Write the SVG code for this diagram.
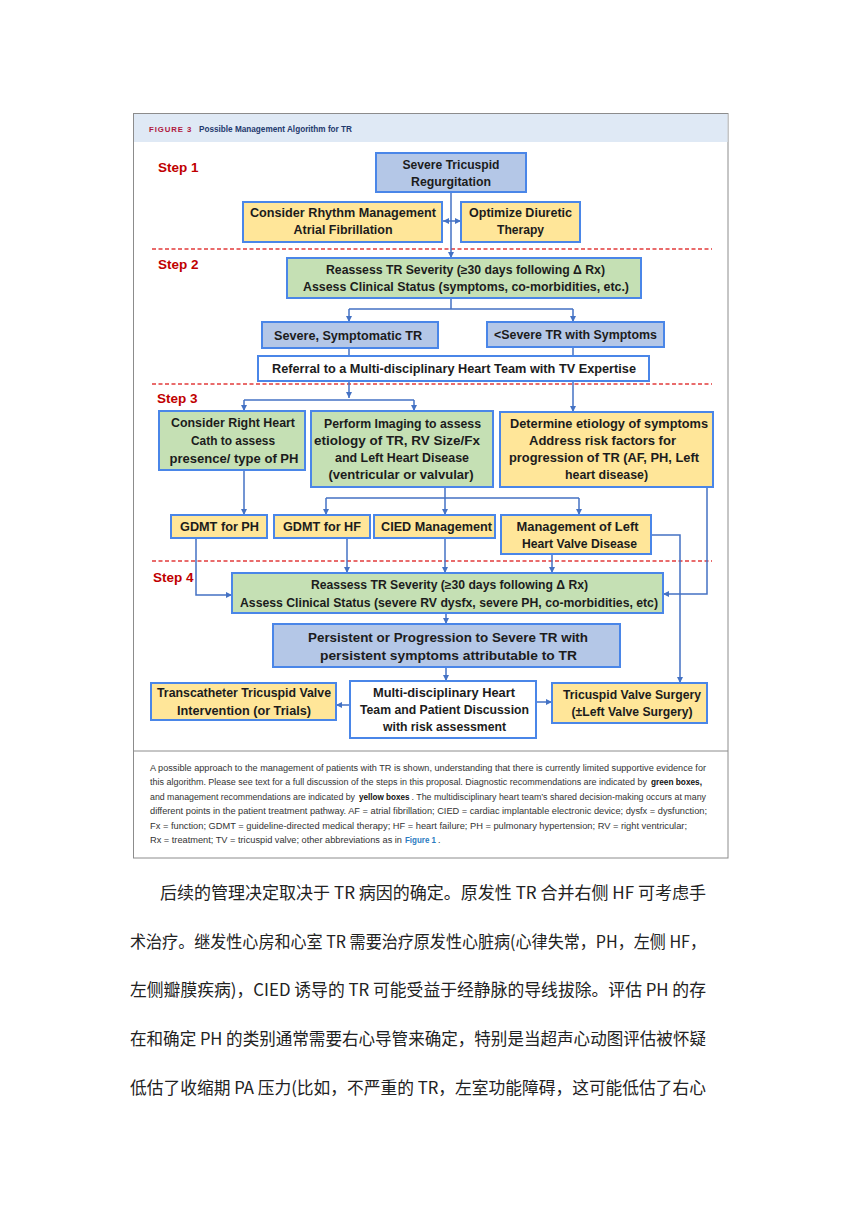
<svg xmlns="http://www.w3.org/2000/svg" width="860" height="1217" viewBox="0 0 860 1217">
<defs>
<style>
.bx{stroke:#4a86e8;stroke-width:2}
.blue{fill:#b4c7e7}.yel{fill:#ffe699}.grn{fill:#c5e0b4}.wht{fill:#ffffff}
.t{font-family:"Liberation Sans",Arial,sans-serif;font-weight:bold;font-size:12px;fill:#1c1c1c;text-anchor:middle}
.tb{font-size:13.5px}
.c{stroke:#4472c4;stroke-width:1.5;fill:none}
.a{marker-end:url(#ah)}
.dash{stroke:#e23b3b;stroke-width:1.3;stroke-dasharray:4 2.5}
.step{font-family:"Liberation Sans",Arial,sans-serif;font-weight:bold;font-size:13.5px;fill:#c00000}
.cap{font-family:"Liberation Sans",Arial,sans-serif;font-size:8.9px;fill:#333}
.capb{font-weight:bold;fill:#111;font-size:8.2px}
.capl{font-weight:bold;fill:#2b7bbf;font-size:8.2px}
.zh{font-family:"Noto Sans CJK SC","Noto Sans",sans-serif;font-size:17px;fill:#222}
</style>
<marker id="ah" viewBox="0 0 10 10" refX="10" refY="5" markerWidth="6" markerHeight="6" markerUnits="userSpaceOnUse" orient="auto">
<path d="M0,0 L10,5 L0,10 z" fill="#4472c4"/>
</marker>
<marker id="ahs" viewBox="0 0 10 10" refX="0" refY="5" markerWidth="6" markerHeight="6" markerUnits="userSpaceOnUse" orient="auto">
<path d="M10,0 L0,5 L10,10 z" fill="#4472c4"/>
</marker>
</defs>
<rect x="0" y="0" width="860" height="1217" fill="#ffffff"/>
<g id="frame">
<rect x="133.5" y="113.5" width="594.5" height="744.5" fill="#ffffff" stroke="#8c8c8c" stroke-width="1"/>
<rect x="134" y="114" width="593.5" height="28" fill="#dfe9f5"/>
<line x1="133.5" y1="751" x2="728" y2="751" stroke="#8c8c8c" stroke-width="1"/>
<text x="149" y="131.5" font-family="Liberation Sans,Arial,sans-serif" font-weight="bold" font-size="7.8" letter-spacing="0.9" fill="#b0173e">FIGURE 3</text>
<text x="199" y="131.5" font-family="Liberation Sans,Arial,sans-serif" font-weight="bold" font-size="8.4" fill="#1f3a6e" textLength="153" lengthAdjust="spacingAndGlyphs">Possible Management Algorithm for TR</text>
</g>
<g id="dividers">
<line class="dash" x1="152" y1="249" x2="712" y2="249"/>
<line class="dash" x1="152" y1="384" x2="712" y2="384"/>
<line class="dash" x1="152" y1="561" x2="712" y2="561"/>
<text class="step" x="158" y="172">Step 1</text>
<text class="step" x="158" y="269">Step 2</text>
<text class="step" x="157" y="403">Step 3</text>
<text class="step" x="153" y="582">Step 4</text>
</g>
<g id="connectors">
<path class="c a" d="M451,192 V258"/>
<path class="c" d="M443,221 H461" marker-start="url(#ahs)" marker-end="url(#ah)"/>
<path class="c" d="M451,298 V309 M349,309 H573"/>
<path class="c a" d="M349,309 V322"/>
<path class="c a" d="M573,309 V322"/>
<path class="c" d="M349,348 V356"/>
<path class="c a" d="M573,347 V412"/>
<path class="c a" d="M349,381 V398"/>
<path class="c" d="M244,400 H414"/>
<path class="c a" d="M244,400 V411"/>
<path class="c a" d="M414,400 V411"/>
<path class="c a" d="M244,470 V515"/>
<path class="c" d="M445,487 V498 M326,498 H579"/>
<path class="c a" d="M326,498 V515"/>
<path class="c a" d="M445,498 V515"/>
<path class="c a" d="M579,498 V515"/>
<path class="c a" d="M196,538 V595 H232"/>
<path class="c a" d="M347,538 V573"/>
<path class="c a" d="M445,538 V573"/>
<path class="c a" d="M552,554 V573"/>
<path class="c a" d="M651,535 H680 V683"/>
<path class="c a" d="M707,487 V594 H663"/>
<path class="c a" d="M446,613 V624"/>
<path class="c a" d="M446,667 V681"/>
<path class="c a" d="M350,705 H336"/>
<path class="c a" d="M536,702 H552"/>
</g>
<g id="severe-tr">
<rect class="bx blue" x="376" y="153" width="150" height="39"/>
<text class="t" x="451" y="169" textLength="97" lengthAdjust="spacingAndGlyphs">Severe Tricuspid</text>
<text class="t" x="451" y="186" textLength="80" lengthAdjust="spacingAndGlyphs">Regurgitation</text>
</g>
<g id="rhythm">
<rect class="bx yel" x="243" y="202" width="199" height="40"/>
<text class="t" x="343" y="217" textLength="186" lengthAdjust="spacingAndGlyphs">Consider Rhythm Management</text>
<text class="t" x="343" y="234" textLength="99" lengthAdjust="spacingAndGlyphs">Atrial Fibrillation</text>
</g>
<g id="diuretic">
<rect class="bx yel" x="461" y="202" width="119" height="40"/>
<text class="t" x="520.5" y="217" textLength="103" lengthAdjust="spacingAndGlyphs">Optimize Diuretic</text>
<text class="t" x="520.5" y="234" textLength="47" lengthAdjust="spacingAndGlyphs">Therapy</text>
</g>
<g id="reassess-1">
<rect class="bx grn" x="287" y="258" width="354" height="40"/>
<text class="t" x="465.5" y="274" textLength="279" lengthAdjust="spacingAndGlyphs">Reassess TR Severity (≥30 days following Δ Rx)</text>
<text class="t" x="466" y="291" textLength="326" lengthAdjust="spacingAndGlyphs">Assess Clinical Status (symptoms, co-morbidities, etc.)</text>
</g>
<g id="severe-symptomatic">
<rect class="bx blue" x="262" y="322" width="176" height="26"/>
<text class="t" x="348" y="339.5" textLength="148" lengthAdjust="spacingAndGlyphs">Severe, Symptomatic  TR</text>
</g>
<g id="less-severe">
<rect class="bx blue" x="487" y="322" width="177" height="25"/>
<text class="t" x="575.5" y="339" textLength="163" lengthAdjust="spacingAndGlyphs">&lt;Severe TR with Symptoms</text>
</g>
<g id="referral">
<rect class="bx wht" x="258" y="356" width="391" height="25"/>
<text class="t" x="454" y="372.5" textLength="364" lengthAdjust="spacingAndGlyphs">Referral to a Multi-disciplinary Heart Team with TV Expertise</text>
</g>
<g id="right-heart-cath">
<rect class="bx grn" x="159" y="411" width="146" height="59"/>
<text class="t" x="233" y="427" textLength="124" lengthAdjust="spacingAndGlyphs">Consider Right Heart</text>
<text class="t" x="233" y="445" textLength="84" lengthAdjust="spacingAndGlyphs">Cath to assess</text>
<text class="t" x="234" y="463" textLength="129" lengthAdjust="spacingAndGlyphs">presence/ type of PH</text>
</g>
<g id="imaging">
<rect class="bx grn" x="311" y="411" width="182" height="76"/>
<text class="t" x="402.5" y="428" textLength="157" lengthAdjust="spacingAndGlyphs">Perform Imaging to assess</text>
<text class="t" x="397" y="445" textLength="166" lengthAdjust="spacingAndGlyphs">etiology of TR,  RV Size/Fx</text>
<text class="t" x="402" y="462" textLength="134" lengthAdjust="spacingAndGlyphs">and Left Heart Disease</text>
<text class="t" x="401" y="479" textLength="145" lengthAdjust="spacingAndGlyphs">(ventricular or valvular)</text>
</g>
<g id="etiology">
<rect class="bx yel" x="500" y="412" width="213" height="75"/>
<text class="t" x="609" y="428" textLength="198" lengthAdjust="spacingAndGlyphs">Determine etiology of symptoms</text>
<text class="t" x="602.5" y="445" textLength="147" lengthAdjust="spacingAndGlyphs">Address risk factors for</text>
<text class="t" x="604" y="462" textLength="190" lengthAdjust="spacingAndGlyphs">progression of TR (AF, PH, Left</text>
<text class="t" x="606.5" y="479" textLength="83" lengthAdjust="spacingAndGlyphs">heart disease)</text>
</g>
<g id="gdmt-ph">
<rect class="bx yel" x="171" y="515" width="96" height="23"/>
<text class="t" x="219.5" y="530.5" textLength="79" lengthAdjust="spacingAndGlyphs">GDMT for PH</text>
</g>
<g id="gdmt-hf">
<rect class="bx yel" x="274" y="515" width="96" height="23"/>
<text class="t" x="322" y="530.5" textLength="78" lengthAdjust="spacingAndGlyphs">GDMT for HF</text>
</g>
<g id="cied">
<rect class="bx yel" x="374" y="515" width="121" height="23"/>
<text class="t" x="436.5" y="530.5" textLength="111" lengthAdjust="spacingAndGlyphs">CIED Management</text>
</g>
<g id="left-valve">
<rect class="bx yel" x="501" y="515" width="150" height="39"/>
<text class="t" x="577.5" y="530.5" textLength="122" lengthAdjust="spacingAndGlyphs">Management of Left</text>
<text class="t" x="579.5" y="547.5" textLength="115" lengthAdjust="spacingAndGlyphs">Heart Valve Disease</text>
</g>
<g id="reassess-2">
<rect class="bx grn" x="232" y="573" width="431" height="40"/>
<text class="t" x="449.5" y="589" textLength="277" lengthAdjust="spacingAndGlyphs">Reassess TR Severity (≥30 days following Δ Rx)</text>
<text class="t" x="449" y="606.5" textLength="418" lengthAdjust="spacingAndGlyphs">Assess Clinical Status (severe RV dysfx, severe PH, co-morbidities, etc)</text>
</g>
<g id="persistent">
<rect class="bx blue" x="273" y="624" width="347" height="43"/>
<text class="t tb" x="448" y="641.5" textLength="280" lengthAdjust="spacingAndGlyphs">Persistent or Progression to Severe TR with</text>
<text class="t tb" x="448.5" y="660" textLength="257" lengthAdjust="spacingAndGlyphs">persistent symptoms attributable to TR</text>
</g>
<g id="transcatheter">
<rect class="bx yel" x="151" y="683" width="185" height="37"/>
<text class="t" x="244" y="696.5" textLength="174" lengthAdjust="spacingAndGlyphs">Transcatheter Tricuspid Valve</text>
<text class="t" x="244" y="714.5" textLength="134" lengthAdjust="spacingAndGlyphs">Intervention (or Trials)</text>
</g>
<g id="heart-team">
<rect class="bx wht" x="350" y="681" width="186" height="57"/>
<text class="t" x="444" y="696.5" textLength="142" lengthAdjust="spacingAndGlyphs">Multi-disciplinary Heart</text>
<text class="t" x="444.5" y="713.5" textLength="169" lengthAdjust="spacingAndGlyphs">Team and Patient Discussion</text>
<text class="t" x="444.5" y="730.5" textLength="123" lengthAdjust="spacingAndGlyphs">with risk assessment</text>
</g>
<g id="tv-surgery">
<rect class="bx yel" x="552" y="683" width="155" height="40"/>
<text class="t" x="632" y="698.5" textLength="138" lengthAdjust="spacingAndGlyphs">Tricuspid Valve Surgery</text>
<text class="t" x="632" y="715.5" textLength="121" lengthAdjust="spacingAndGlyphs">(±Left Valve Surgery)</text>
</g>
<g id="caption">
<text class="cap" x="150" y="770.5" textLength="556" lengthAdjust="spacingAndGlyphs">A possible approach to the management of patients with TR is shown, understanding that there is currently limited supportive evidence for</text>
<text class="cap" x="150" y="785" textLength="497" lengthAdjust="spacingAndGlyphs">this algorithm. Please see text for a full discussion of the steps in this proposal. Diagnostic recommendations are indicated by</text>
<text class="cap capb" x="651" y="785" textLength="51" lengthAdjust="spacingAndGlyphs">green boxes,</text>
<text class="cap" x="150" y="799.5" textLength="205" lengthAdjust="spacingAndGlyphs">and management recommendations are indicated by</text>
<text class="cap capb" x="359" y="799.5" textLength="50.5" lengthAdjust="spacingAndGlyphs">yellow boxes</text>
<text class="cap" x="411.5" y="799.5" textLength="294.5" lengthAdjust="spacingAndGlyphs">. The multidisciplinary heart team’s shared decision-making occurs at many</text>
<text class="cap" x="150" y="814" textLength="557" lengthAdjust="spacingAndGlyphs">different points in the patient treatment pathway. AF = atrial fibrillation; CIED = cardiac implantable electronic device; dysfx = dysfunction;</text>
<text class="cap" x="150" y="828.5" textLength="537" lengthAdjust="spacingAndGlyphs">Fx = function; GDMT = guideline-directed medical therapy; HF = heart failure; PH = pulmonary hypertension; RV = right ventricular;</text>
<text class="cap" x="150" y="843" textLength="252" lengthAdjust="spacingAndGlyphs">Rx = treatment; TV = tricuspid valve; other abbreviations as in</text>
<text class="cap capl" x="405" y="843" textLength="31" lengthAdjust="spacingAndGlyphs">Figure 1</text>
<text class="cap" x="438" y="843">.</text>
</g>
<g id="body-text">
<text class="zh" x="160" y="899" textLength="546" lengthAdjust="spacingAndGlyphs">后续的管理决定取决于 TR 病因的确定。原发性 TR 合并右侧 HF 可考虑手</text>
<text class="zh" x="130" y="947.5" textLength="576" lengthAdjust="spacingAndGlyphs">术治疗。继发性心房和心室 TR 需要治疗原发性心脏病(心律失常，PH，左侧 HF，</text>
<text class="zh" x="130" y="996" textLength="576" lengthAdjust="spacingAndGlyphs">左侧瓣膜疾病)，CIED 诱导的 TR 可能受益于经静脉的导线拔除。评估 PH 的存</text>
<text class="zh" x="130" y="1045" textLength="576" lengthAdjust="spacingAndGlyphs">在和确定 PH 的类别通常需要右心导管来确定，特别是当超声心动图评估被怀疑</text>
<text class="zh" x="130" y="1093.5" textLength="576" lengthAdjust="spacingAndGlyphs">低估了收缩期 PA 压力(比如，不严重的 TR，左室功能障碍，这可能低估了右心</text>
</g>
</svg>
